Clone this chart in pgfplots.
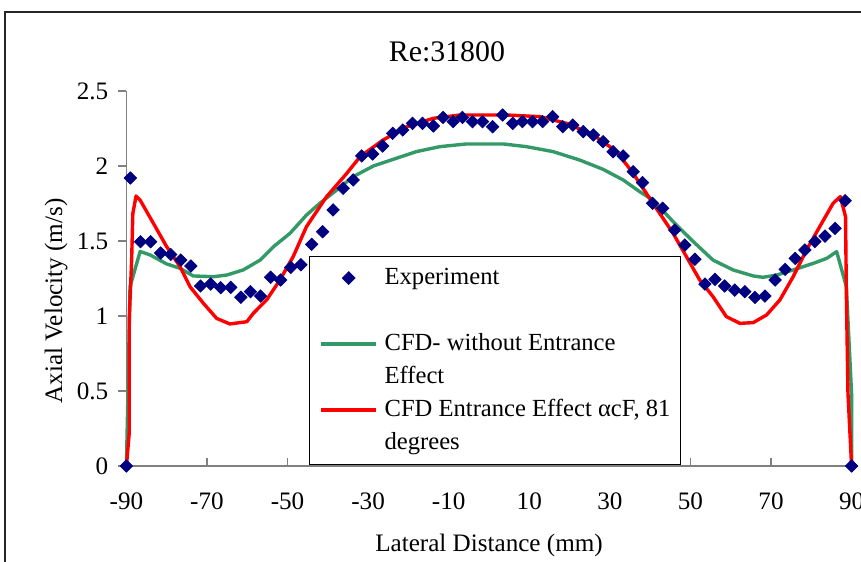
\documentclass[border=0pt]{standalone}
\usepackage{fontspec}
\setmainfont{Liberation Serif}
\usepackage{pgfplots}
\pgfplotsset{compat=1.18}
\definecolor{expblue}{RGB}{0,0,128}
\definecolor{cfdgreen}{RGB}{51,153,102}
\definecolor{cfdred}{RGB}{255,0,0}
\definecolor{axgray}{RGB}{128,128,128}
\newcommand{\lblfont}{\fontsize{14.3}{17}\selectfont}
\begin{document}
\begin{tikzpicture}
\useasboundingbox (0,0) rectangle (17.22cm,11.22cm);
\draw[line width=0.035cm, black!85] (0.1cm,-1cm) rectangle (18cm,10.98cm);
\begin{axis}[
  at={(2.528cm,1.9cm)}, anchor=south west, scale only axis,
  width=14.504cm, height=7.5cm,
  xmin=-90, xmax=90, ymin=0, ymax=2.5,
  xtick={-90,-70,-50,-30,-10,10,30,50,70,90},
  ytick={0,0.5,1,1.5,2,2.5},
  axis x line*=bottom, axis y line*=left,
  axis line style={-, draw=axgray, line width=0.03cm},
  every tick/.style={draw=axgray, line width=0.03cm},
  major tick length=0.16cm,
  xtick align=inside, ytick align=outside,
  /pgf/number format/assume math mode=true,
  tick label style={font=\lblfont},
  xticklabel style={yshift=-0.42cm},
  yticklabel style={xshift=-0.08cm},
  clip=false,
  title={Re:31800},
  every axis title/.style={font=\fontsize{17}{20}\selectfont, at={(axis description cs:0.442,1.105)}, anchor=center},
  xlabel={Lateral Distance (mm)},
  ylabel={Axial Velocity (m/s)},
  every axis x label/.style={at={(axis description cs:0.5,-0.211)}, anchor=center, font=\lblfont},
  every axis y label/.style={at={(axis description cs:-0.097,0.44)}, anchor=center, rotate=90, font=\lblfont},
  legend image code/.code={\draw[mark repeat=2,mark phase=2,#1] plot coordinates {(0cm,0cm) (0.55cm,0cm) (1.1cm,0cm)};},
  legend cell align=left,
  legend style={at={(axis description cs:0.2518,0.56)}, anchor=north west,
    draw=black, line width=0.6pt, fill=white,
    inner xsep=0.2cm, inner ysep=0.19cm,
    column sep=0.134cm, row sep=0.18cm,
    font=\fontsize{14}{17}\selectfont,
    nodes={inner sep=0pt, text height=0.36cm, text depth=0.12cm}},
]
\addplot[only marks, mark=square*, mark size=2.5pt, mark options={rotate=45, fill=expblue, draw=expblue}, color=expblue] coordinates {
(-90,0) (-89,1.92) (-86.5,1.495) (-84,1.495) (-81.5,1.42) (-79,1.41) (-76.5,1.373) (-74,1.333)
(-71.6,1.2) (-69.1,1.213) (-66.6,1.189) (-64.1,1.191) (-61.6,1.125) (-59.2,1.162) (-56.7,1.133)
(-54.2,1.258) (-51.7,1.24) (-49.2,1.324) (-46.7,1.342) (-44,1.478) (-41.3,1.562) (-38.7,1.707)
(-36.2,1.851) (-33.7,1.907) (-31.6,2.067) (-28.9,2.08) (-26.4,2.133) (-23.9,2.218) (-21.4,2.24)
(-19,2.284) (-16.5,2.284) (-13.8,2.267) (-11.4,2.324) (-8.9,2.296) (-6.6,2.324) (-4.1,2.296)
(-1.6,2.296) (0.9,2.262) (3.4,2.34) (5.9,2.284) (8.3,2.296) (10.8,2.296) (13.3,2.296)
(15.8,2.329) (18.3,2.262) (20.8,2.273) (23.4,2.229) (25.9,2.207) (28.3,2.162) (30.8,2.095)
(33.3,2.067) (35.8,1.962) (38.1,1.889) (40.6,1.751) (43.1,1.718) (46.1,1.573) (48.6,1.473)
(51.1,1.378) (53.6,1.213) (56.1,1.244) (58.5,1.2) (61,1.173) (63.5,1.162) (66,1.124)
(68.5,1.133) (71,1.24) (73.5,1.311) (76,1.384) (78.4,1.44) (80.9,1.496) (83.4,1.533)
(85.9,1.584) (88.4,1.769) (90,0)
};
\addlegendentry{Experiment}
\addlegendimage{empty legend}
\addlegendentry{}
\addplot[color=cfdgreen, line width=0.068cm, line join=round, no marks] coordinates {
(-90,0) (-89.6,0.5) (-89.1,1.195) (-86.6,1.43) (-84.1,1.407) (-80,1.347) (-76.7,1.318)
(-73.4,1.267) (-68.4,1.262) (-65.1,1.273) (-61,1.307) (-56.8,1.373) (-53.5,1.462) (-49.4,1.551)
(-45.3,1.673) (-42,1.751) (-37.8,1.84) (-33.7,1.929) (-28.7,2.0) (-23.8,2.044) (-18,2.096)
(-12.2,2.129) (-5.6,2.147) (3.5,2.147) (9.3,2.129) (15.9,2.096) (22.5,2.04) (28.3,1.978)
(33.3,1.907) (37.4,1.829) (40.7,1.773) (45.7,1.629) (50.7,1.496) (55.6,1.373) (60.6,1.307)
(65.6,1.267) (68,1.258) (71.4,1.273) (75.5,1.307) (80.5,1.351) (83.8,1.384) (86.3,1.429)
(88.7,1.195) (90,0.48) (90,0)
};
\addlegendentry{CFD- without Entrance}
\addlegendimage{empty legend}
\addlegendentry{Effect}
\addplot[color=cfdred, line width=0.068cm, line join=round, no marks] coordinates {
(-90,0) (-89.3,0.218) (-89.3,0.973) (-88.7,1.373) (-88.4,1.684) (-87.6,1.8) (-86.6,1.773)
(-83.3,1.618) (-80,1.462) (-76.7,1.329) (-74.2,1.195) (-70.9,1.085) (-67.6,0.984) (-64.3,0.947)
(-60.1,0.962) (-58.5,1.018) (-55.2,1.107) (-51.9,1.24) (-48.6,1.396) (-45.3,1.596) (-40.3,1.796)
(-35.3,1.951) (-32,2.062) (-26.3,2.173) (-20.4,2.262) (-13.8,2.318) (-7.2,2.34) (4.4,2.34)
(12.6,2.329) (19.3,2.284) (25.9,2.207) (31.7,2.096) (35.8,1.95) (40.7,1.751) (45.7,1.551)
(49,1.396) (52.3,1.24) (55.6,1.129) (58.9,0.996) (62.3,0.951) (65.6,0.956) (68.9,1.007)
(72.2,1.107) (75.5,1.262) (78.8,1.44) (82.1,1.596) (85.4,1.751) (87.2,1.796) (88.5,1.662)
(88.7,1.151) (89.1,0.485) (90,0)
};
\addlegendentry{CFD Entrance Effect αcF, 81}
\addlegendimage{empty legend}
\addlegendentry{degrees}
\end{axis}
\end{tikzpicture}
\end{document}
